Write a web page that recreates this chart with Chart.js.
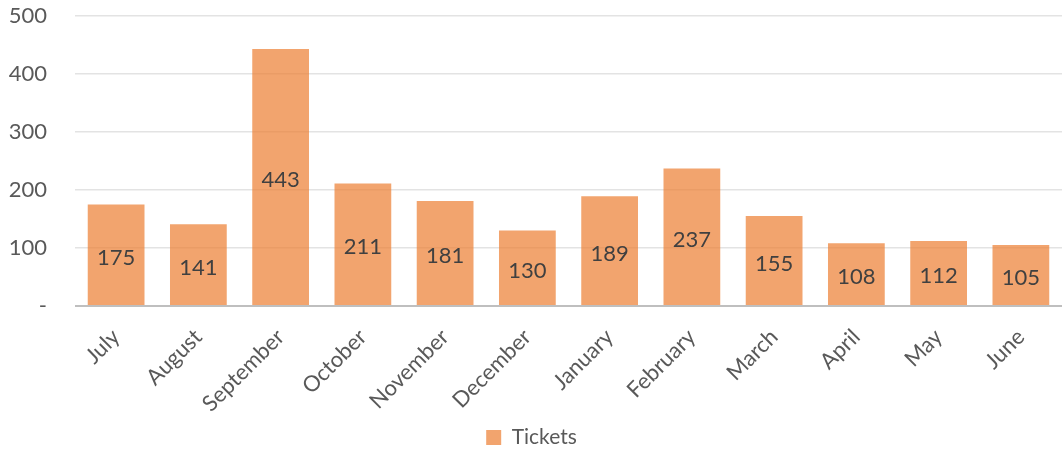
<!DOCTYPE html>
<html>
<head>
<meta charset="utf-8">
<script src="https://cdn.jsdelivr.net/npm/chart.js@4"></script>
<style>
  html, body { margin: 0; padding: 0; background: #fff; }
  #wrap { width: 1062px; height: 454px; position: relative; }
</style>
</head>
<body>
<div id="wrap"><canvas id="ticketsChart"></canvas></div>
<script>
// chart data
const months = ["July", "August", "September", "October", "November", "December",
    "January", "February", "March", "April", "May", "June"];
const tickets = [175, 141, 443, 211, 181, 130, 189, 237, 155, 108, 112, 105];
const yTicks = [0, 100, 200, 300, 400, 500];

const FONT = "Lato, 'Open Sans', sans-serif";

// draws the value in the middle of each bar
const centerLabels = {
    id: "centerLabels",
    afterDatasetsDraw(chart) {
        let ctx = chart.ctx;
        let meta = chart.getDatasetMeta(0);
        ctx.save();
        ctx.font = "22px " + FONT;
        ctx.fillStyle = "#404040";
        ctx.textAlign = "center";
        ctx.textBaseline = "middle";
        meta.data.forEach((bar, i) => {
            let mid = (bar.y + bar.base) / 2;
            ctx.fillText(String(tickets[i]), bar.x, mid + 3);
        });
        ctx.restore();
    }
};

let ctx = document.getElementById("ticketsChart").getContext("2d");
new Chart(ctx, {
    type: "bar",
    data: {
        labels: months,
        datasets: [{
            label: "Tickets",
            data: tickets,
            backgroundColor: "rgba(237,125,49,0.7)",
            borderWidth: 0,
            barPercentage: 1,
            categoryPercentage: 0.69
        }]
    },
    options: {
        responsive: true,
        maintainAspectRatio: false,
        animation: false,
        layout: {
            padding: { top: 16, right: 0, left: 1, bottom: -4 }
        },
        scales: {
            y: {
                min: 0,
                max: 500,
                afterBuildTicks(axis) {
                    axis.ticks = yTicks.map(v => ({ value: v }));
                },
                afterFit(axis) {
                    axis.width = 74;
                    axis.paddingTop = 0;
                    axis.paddingBottom = 0;
                },
                ticks: {
                    color: "#595959",
                    font: { size: 22, family: FONT },
                    padding: 28,
                    callback: v => v === 0 ? "-" : String(v)
                },
                grid: {
                    color: ctx2 => ctx2.tick.value === 0 ? "#bfbfbf" : "#e3e3e3",
                    lineWidth: ctx2 => ctx2.tick.value === 0 ? 2 : 1.5,
                    drawTicks: false
                },
                border: { display: false }
            },
            x: {
                ticks: {
                    color: "#595959",
                    font: { size: 22, family: FONT },
                    maxRotation: 45,
                    minRotation: 45,
                    padding: 10
                },
                grid: { display: false },
                border: { display: false }
            }
        },
        plugins: {
            legend: {
                position: "bottom",
                labels: {
                    color: "#595959",
                    font: { size: 21, family: FONT },
                    boxWidth: 15,
                    boxHeight: 15,
                    padding: 0
                }
            },
            tooltip: { enabled: false }
        }
    },
    plugins: [centerLabels]
});
</script>
</body>
</html>
